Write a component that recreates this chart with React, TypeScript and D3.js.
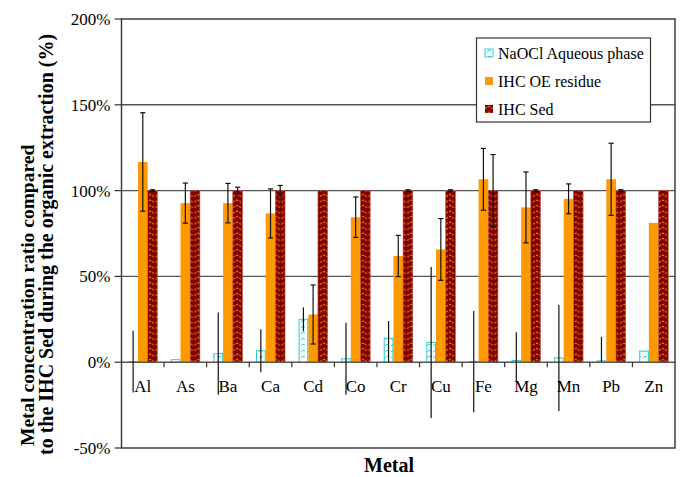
import React from "react";
import * as d3 from "d3";

const metals = ["Al", "As", "Ba", "Ca", "Cd", "Co", "Cr", "Cu", "Fe", "Mg", "Mn", "Pb", "Zn"];
const seriesNames = ["NaOCl Aqueous phase", "IHC OE residue", "IHC Sed"];

const aqValues = [0.3, 1.5, 5, 6.7, 25, 2, 14, 11.5, 0.4, 1, 2.5, 0.8, 6.5];
const aqErrPlus = [18, 0, 24, 12.5, 7, 21, 10, 44, 29.5, 16.5, 31, 14, 0];
const aqErrMinus = [18, 0, 24, 12.5, 7, 21, 14, 44, 29.5, 12, 31, 0.5, 0];

const oeValues = [116.7, 92.7, 92.7, 86.7, 27.8, 84.5, 61.9, 65.7, 106.6, 90.2, 95.2, 106.6, 81.2];
const oeErr = [28.7, 11.7, 11.5, 14.3, 17.2, 11.8, 12, 18, 18, 20.7, 8.7, 21, 0];

const sedValues = [100, 100, 100, 100, 100, 100, 100, 100, 100, 100, 100, 100, 100];
const sedErr = [0.5, 0, 2, 3, 0, 0, 0.5, 0.5, 21, 0.5, 0, 0.5, 0];

const yTicks = [-50, 0, 50, 100, 150, 200];

const W = 681, H = 477;
const L = 121.5, R = 675, T = 19, B = 448;
const serif = "Liberation Serif, Times New Roman, Times, serif";
const ORANGE = "#FF9900";
const DARKRED = "#800000";
const CYAN = "#33CCCC";
const tStyle = { fontFamily: serif };

export default function App() {
  const x = d3.scaleBand<string>().domain(metals).range([L, R]).paddingInner(0).paddingOuter(0);
  const xs = d3.scaleBand<string>().domain(seriesNames).range([0, x.bandwidth()]).paddingInner(0).paddingOuter(0.7);
  const y = d3.scaleLinear().domain([-50, 200]).range([B, T]);
  const bw = xs.bandwidth();
  const cap = 2.6;

  const barsOf = (vals: number[], si: number) =>
    metals.map((m, i) => {
      const x0 = (x(m) as number) + (xs(seriesNames[si]) as number);
      const v = vals[i];
      return { m, i, x0, y0: Math.min(y(v), y(0)), h: Math.abs(y(v) - y(0)) };
    });

  const aqBars = barsOf(aqValues, 0);
  const oeBars = barsOf(oeValues, 1);
  const sedBars = barsOf(sedValues, 2);

  return (
    <svg width={W} height={H} style={{ position: "absolute", left: 0, top: 0, background: "#fff", fontFamily: serif }}>
      <defs>
        <pattern id="sedPat" patternUnits="userSpaceOnUse" width={bw} height={5.5} x={0} y={0}>
          <rect width={bw} height={5.5} fill={DARKRED} />
          <path d={`M1,4.2 Q${bw / 2},0.2 ${bw - 1},4.2`} fill="none" stroke={ORANGE} strokeWidth={1.1} strokeDasharray="2.2,1.2" />
        </pattern>
        <pattern id="aqPat" patternUnits="userSpaceOnUse" width={6} height={6}>
          <rect width={6} height={6} fill="#fff" />
          <path d="M1,4 Q3,1 5,3" fill="none" stroke={CYAN} strokeWidth={1} />
        </pattern>
      </defs>

      {/* gridlines */}
      {yTicks.filter((t) => t !== -50 && t !== 200 && t !== 0).map((t) => (
        <line key={t} x1={L} x2={R} y1={y(t)} y2={y(t)} stroke="#555" strokeWidth={1.4} />
      ))}

      {/* bars */}
      {oeBars.map((b) => (
        <rect key={"oe" + b.m} x={b.x0} y={b.y0} width={bw} height={b.h} fill={ORANGE} />
      ))}
      {sedBars.map((b) => (
        <rect key={"sed" + b.m} x={b.x0} y={b.y0} width={bw} height={b.h} fill="url(#sedPat)" stroke="#C0504D" strokeWidth={0.6} />
      ))}
      {aqBars.map((b) => (
        <rect key={"aq" + b.m} x={b.x0 + 0.5} y={b.y0} width={bw - 1} height={b.h} fill="url(#aqPat)" stroke={CYAN} strokeWidth={1} />
      ))}

      {/* zero axis and ticks */}
      <line x1={L} x2={R} y1={y(0)} y2={y(0)} stroke="#555" strokeWidth={1.4} />
      {metals.slice(1).map((m) => (
        <line key={"xt" + m} x1={x(m) as number} x2={x(m) as number} y1={y(0)} y2={y(0) + 5} stroke="#333" strokeWidth={1.2} />
      ))}

      {/* error bars: OE and Sed with caps */}
      {oeBars.map((b) => {
        const e = oeErr[b.i];
        if (!e) return null;
        const cx = b.x0 + bw / 2;
        const v = oeValues[b.i];
        return (
          <g key={"oee" + b.m} stroke="#111" strokeWidth={1.2}>
            <line x1={cx} x2={cx} y1={y(v + e)} y2={y(v - e)} />
            <line x1={cx - cap} x2={cx + cap} y1={y(v + e)} y2={y(v + e)} />
            <line x1={cx - cap} x2={cx + cap} y1={y(v - e)} y2={y(v - e)} />
          </g>
        );
      })}
      {sedBars.map((b) => {
        const e = sedErr[b.i];
        if (!e) return null;
        const cx = b.x0 + bw / 2;
        const v = sedValues[b.i];
        return (
          <g key={"sede" + b.m} stroke="#111" strokeWidth={1.2}>
            <line x1={cx} x2={cx} y1={y(v + e)} y2={y(v - e)} />
            <line x1={cx - cap} x2={cx + cap} y1={y(v + e)} y2={y(v + e)} />
            <line x1={cx - cap} x2={cx + cap} y1={y(v - e)} y2={y(v - e)} />
          </g>
        );
      })}
      {/* aqueous error lines, no caps */}
      {aqBars.map((b) => {
        const ep = aqErrPlus[b.i];
        const em = aqErrMinus[b.i];
        if (!ep && !em) return null;
        const cx = b.x0 + bw / 2;
        const v = aqValues[b.i];
        return <line key={"aqe" + b.m} x1={cx} x2={cx} y1={y(v + ep)} y2={y(v - em)} stroke="#111" strokeWidth={1.2} />;
      })}

      {/* category labels */}
      {metals.map((m) => (
        <text key={"lbl" + m} style={tStyle} x={(x(m) as number) + x.bandwidth() / 2} y={y(0) + 30} textAnchor="middle" fontSize={17}>
          {m}
        </text>
      ))}

      {/* frame */}
      <rect x={L} y={T} width={R - L} height={B - T} fill="none" stroke="#333" strokeWidth={1.4} />

      {/* y ticks */}
      {yTicks.map((t) => (
        <g key={"yt" + t}>
          <line x1={L - 7} x2={L} y1={y(t)} y2={y(t)} stroke="#333" strokeWidth={1.2} />
          <text style={tStyle} x={L - 11} y={y(t)} dy="0.35em" textAnchor="end" fontSize={17}>
            {t + "%"}
          </text>
        </g>
      ))}

      {/* legend */}
      <g>
        <rect x={476.5} y={38} width={174} height={84} fill="#fff" stroke="#333" strokeWidth={1.2} />
        {seriesNames.map((s, i) => {
          const cy = 53 + i * 28;
          return (
            <g key={"lg" + s}>
              {i === 0 && <rect x={485} y={cy - 4} width={8} height={8} fill="url(#aqPat)" stroke={CYAN} strokeWidth={1} />}
              {i === 1 && <rect x={485} y={cy - 4} width={8} height={8} fill={ORANGE} />}
              {i === 2 && <rect x={485} y={cy - 4} width={8} height={8} fill="url(#sedPat)" />}
              <text style={tStyle} x={498} y={cy} dy="0.35em" fontSize={16}>
                {s}
              </text>
            </g>
          );
        })}
      </g>

      {/* axis titles */}
      <text style={tStyle} x={389} y={472} textAnchor="middle" fontSize={20} fontWeight="bold">
        Metal
      </text>
      <text style={tStyle} transform="translate(34,446) rotate(-90)" fontSize={19.5} fontWeight="bold">
        Metal concentration ratio compared
      </text>
      <text style={tStyle} transform="translate(53,455) rotate(-90)" fontSize={20} fontWeight="bold">
        to the IHC Sed during the organic extraction (%)
      </text>
    </svg>
  );
}
